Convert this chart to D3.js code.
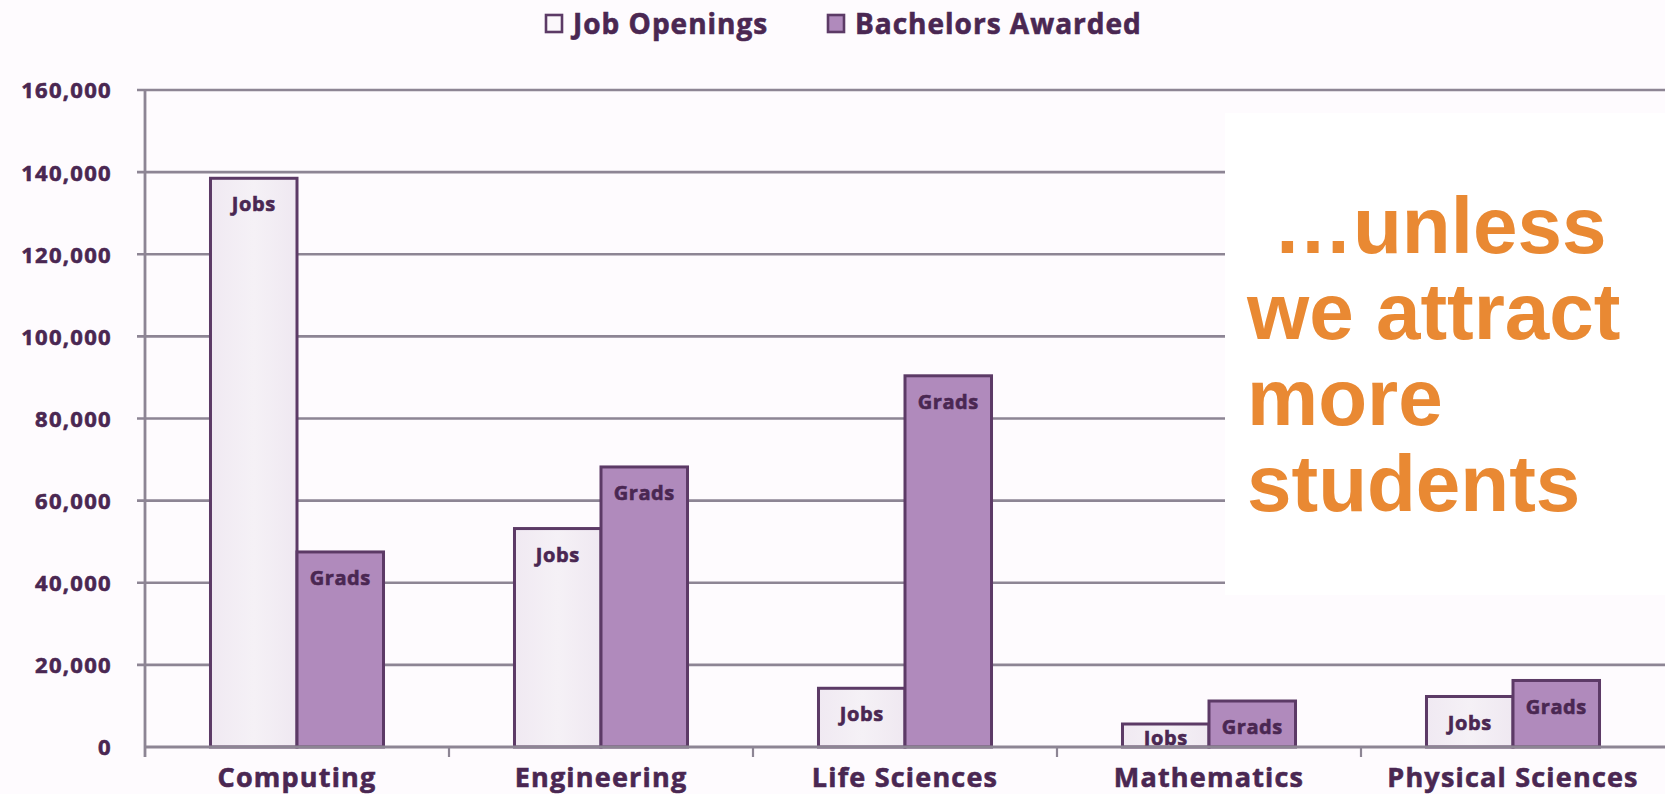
<!DOCTYPE html>
<html>
<head>
<meta charset="utf-8">
<script src="https://cdn.jsdelivr.net/npm/d3@7"></script>
<style>
  html, body { margin: 0; padding: 0; background: #fefbfe; }
  svg { display: block; }
  text { font-family: "Open Sans", "DejaVu Sans", sans-serif; font-weight: 700; }
  .heavy { stroke: #4a2752; stroke-width: 0.6px; paint-order: stroke; }
</style>
</head>
<body>
<svg id="chart" width="1665" height="794"></svg>
<script>
// Job openings vs. bachelor's degrees awarded per field
const categories = ["Computing", "Engineering", "Life Sciences", "Mathematics", "Physical Sciences"];
const jobOpenings = [138500, 53200, 14300, 5600, 12300];
const bachelorsAwarded = [47500, 68200, 90400, 11200, 16200];
const seriesNames = ["Job Openings", "Bachelors Awarded"];
const barLabels = ["Jobs", "Grads"];
const yTicks = [0, 20000, 40000, 60000, 80000, 100000, 120000, 140000, 160000];
const calloutLines = ["\u2026unless", "we attract", "more", "students"];

const W = 1665, H = 794;
const plotLeft = 145, plotRight = 1665, plotTop = 90, plotBottom = 747;

const ink = "#4a2752";
const gridColor = "#8d8594";
const barStroke = "#5c3a66";
const gradFill = "#b08abc";
const orange = "#e98933";

const svg = d3.select("#chart");

const defs = svg.append("defs");
const jobGrad = defs.append("linearGradient").attr("id", "jobGrad")
  .attr("x1", "0").attr("x2", "1").attr("y1", "0").attr("y2", "0");
jobGrad.append("stop").attr("offset", "0").attr("stop-color", "#f0e9f2");
jobGrad.append("stop").attr("offset", "0.5").attr("stop-color", "#f5f1f6");
jobGrad.append("stop").attr("offset", "1").attr("stop-color", "#efe8f1");
defs.append("clipPath").attr("id", "plotClip")
  .append("rect").attr("x", plotLeft).attr("y", 0)
  .attr("width", plotRight - plotLeft).attr("height", plotBottom);

const x = d3.scaleBand().domain(categories).range([plotLeft, plotRight]).paddingInner(0).paddingOuter(0);
const xSub = d3.scaleBand().domain(seriesNames).range([0, x.bandwidth()]).paddingInner(0).paddingOuter(0.757);
const y = d3.scaleLinear().domain([0, 160000]).range([plotBottom, plotTop]);

// horizontal gridlines with short ticks left of the axis
svg.append("g").selectAll("line")
  .data(yTicks.filter(d => d > 0))
  .join("line")
  .attr("x1", plotLeft - 8).attr("x2", plotRight)
  .attr("y1", d => y(d)).attr("y2", d => y(d))
  .attr("stroke", gridColor).attr("stroke-width", 2.6);

// white panel behind the callout text
svg.append("rect")
  .attr("x", 1225).attr("y", 113).attr("width", W - 1225).attr("height", 595 - 113)
  .attr("fill", "#ffffff");

// y-axis labels
const yAxis = d3.axisLeft(y).tickValues(yTicks).tickSize(0).tickPadding(33)
  .tickFormat(d3.format(","));
const gy = svg.append("g").attr("transform", `translate(${plotLeft},0)`).call(yAxis);
gy.select(".domain").remove();
gy.selectAll("text")
  .attr("class", "heavy")
  .attr("fill", ink).style("font-size", "22px").style("letter-spacing", "1.3px")
  .style("font-family", "'Open Sans', sans-serif").style("font-weight", "700")
  .attr("dy", "0.36em");

// bars
const rows = categories.map((c, i) => ({ cat: c, values: [jobOpenings[i], bachelorsAwarded[i]] }));
const groups = svg.append("g").selectAll("g")
  .data(rows).join("g")
  .attr("transform", d => `translate(${x(d.cat)},0)`);

groups.selectAll("rect")
  .data(d => d.values.map((v, k) => ({ v, k })))
  .join("rect")
  .attr("x", d => xSub(seriesNames[d.k]))
  .attr("width", xSub.bandwidth())
  .attr("y", d => y(d.v))
  .attr("height", d => plotBottom - y(d.v))
  .attr("fill", d => d.k === 0 ? "url(#jobGrad)" : gradFill)
  .attr("stroke", barStroke).attr("stroke-width", 3);

// in-bar labels
const labelLayer = svg.append("g").attr("clip-path", "url(#plotClip)");
rows.forEach(r => {
  r.values.forEach((v, k) => {
    labelLayer.append("text")
      .attr("class", "heavy")
      .attr("x", x(r.cat) + xSub(seriesNames[k]) + xSub.bandwidth() / 2)
      .attr("y", Math.min(y(v) + 26, plotBottom - 9))
      .attr("dy", "0.36em")
      .attr("text-anchor", "middle")
      .attr("fill", ink)
      .style("font-size", "20px")
      .style("letter-spacing", "0.6px")
      .text(barLabels[k]);
  });
});

// axis lines
svg.append("line").attr("x1", plotLeft).attr("x2", plotRight).attr("y1", plotBottom).attr("y2", plotBottom)
  .attr("stroke", gridColor).attr("stroke-width", 2.8);
svg.append("line").attr("x1", plotLeft).attr("x2", plotLeft).attr("y1", plotTop).attr("y2", plotBottom + 10)
  .attr("stroke", gridColor).attr("stroke-width", 2.8);
svg.append("g").selectAll("line")
  .data(categories.slice(1))
  .join("line")
  .attr("x1", d => x(d)).attr("x2", d => x(d))
  .attr("y1", plotBottom).attr("y2", plotBottom + 10)
  .attr("stroke", gridColor).attr("stroke-width", 2.2);

// category labels
svg.append("g").selectAll("text")
  .data(categories).join("text")
  .attr("class", "heavy")
  .attr("x", d => x(d) + x.bandwidth() / 2)
  .attr("y", 787)
  .attr("text-anchor", "middle")
  .attr("fill", ink)
  .style("font-size", "27px")
  .style("letter-spacing", "1.2px")
  .text(d => d);

// legend
const legendX = [546, 828];
const legend = svg.append("g").selectAll("g")
  .data(seriesNames).join("g")
  .attr("transform", (d, i) => `translate(${legendX[i]},0)`);
legend.append("rect")
  .attr("x", 0).attr("y", 15).attr("width", 16).attr("height", 17)
  .attr("fill", (d, i) => i === 0 ? "#fbf8fb" : gradFill)
  .attr("stroke", barStroke).attr("stroke-width", 2.6);
legend.append("text")
  .attr("class", "heavy")
  .attr("x", 27).attr("y", 34)
  .attr("fill", ink)
  .style("font-size", "28px")
  .style("letter-spacing", "1px")
  .text(d => d);

// callout
const calloutX = [1273, 1247, 1247, 1247];
const calloutY = [253, 339, 425, 511];
svg.append("g").selectAll("text")
  .data(calloutLines).join("text")
  .attr("x", (d, i) => calloutX[i])
  .attr("y", (d, i) => calloutY[i])
  .attr("fill", orange)
  .style("font-family", "'Liberation Sans', Arial, sans-serif")
  .style("font-size", "80px")
  .text(d => d);
</script>
</body>
</html>
